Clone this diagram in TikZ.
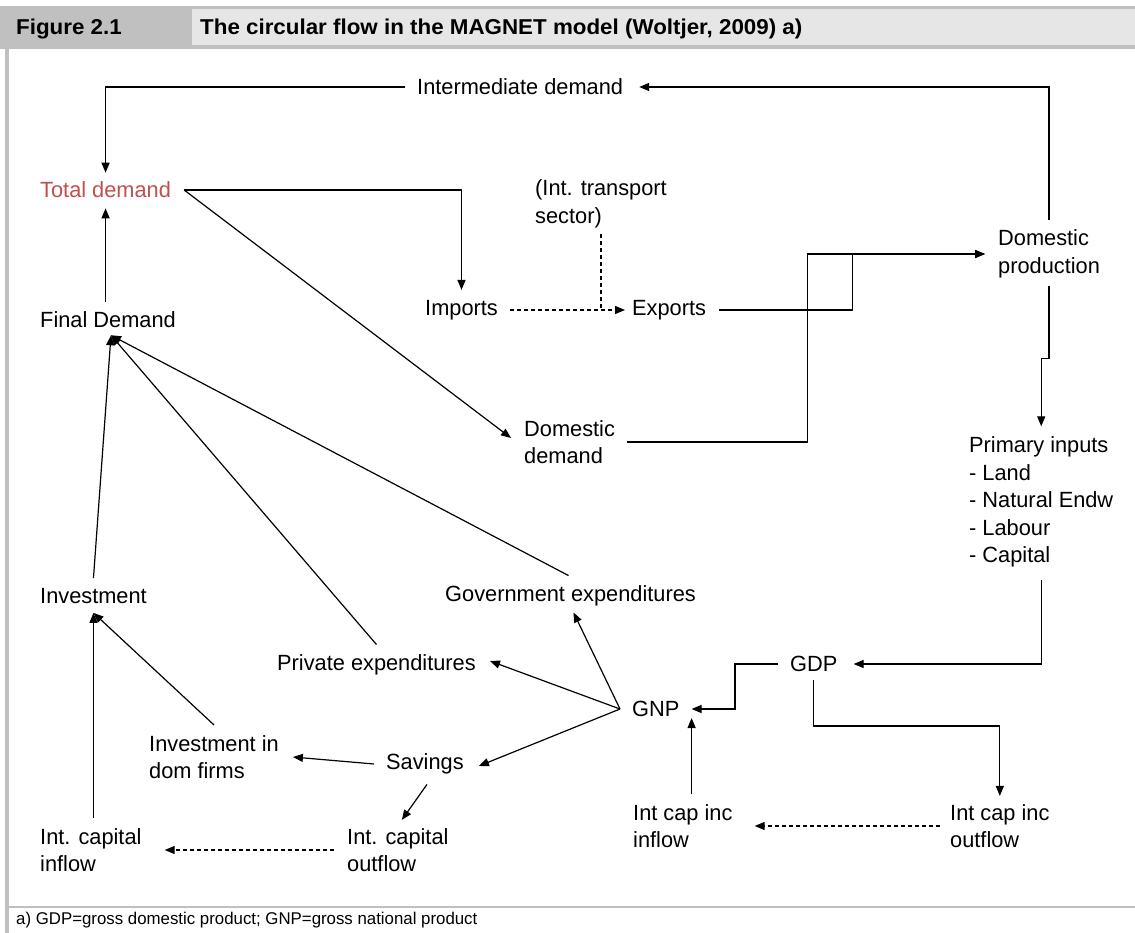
\documentclass[tikz,border=0pt]{standalone}
\usepackage{fontspec}
\setmainfont[FakeStretch=0.99]{Liberation Sans}
\newfontfamily\headfont[FakeStretch=1.04]{Liberation Sans}
\usetikzlibrary{arrows.meta}
\definecolor{framegray}{RGB}{192,192,192}
\definecolor{cellgray}{RGB}{230,230,230}
\definecolor{redtext}{RGB}{192,80,77}
\begin{document}
\begin{tikzpicture}[x=1pt,y=-1pt,
  lbl/.style={inner sep=0pt, anchor=west, font=\fontsize{22}{27.6}\selectfont, align=left},
  conn/.style={line width=1.2pt, draw=black},
  arr/.style={conn, -{Triangle[length=10pt,width=8pt]}},
  darr/.style={arr, dash pattern=on 4pt off 3pt},
  dline/.style={conn, dash pattern=on 4pt off 3pt}]
\useasboundingbox (0,0) rectangle (1135,933);
% frame
\fill[framegray] (0,6) rectangle (1135,49);
\fill[cellgray] (192,9) rectangle (1135,45);
\fill[framegray] (5,49) rectangle (9,933);
\fill[framegray] (5,906) rectangle (1135,908);
\node[inner sep=0pt, anchor=west, font=\headfont\bfseries\fontsize{21.5}{24}\selectfont] (fig) at (16,29) {Figure 2.1};
\node[inner sep=0pt, anchor=west, font=\headfont\bfseries\fontsize{21.5}{24}\selectfont] (title) at (200,29) {The circular flow in the MAGNET model (Woltjer, 2009) a)};
\node[inner sep=0pt, anchor=west, font=\fontsize{17}{20}\selectfont] (foot) at (16,920) {a) GDP=gross domestic product; GNP=gross national product};
% nodes
\node[lbl] (idem) at (417,87) {Intermediate demand};
\node[lbl, text=redtext] (tot) at (40,190) {Total demand};
\node[lbl] (trans) at (535,204) {(Int. transport\\sector)};
\node[lbl] (dp) at (998,254) {Domestic\\production};
\node[lbl] (imp) at (425,310) {Imports};
\node[lbl] (exp) at (632,310) {Exports};
\node[lbl] (fd) at (40,320) {Final Demand};
\node[lbl] (dd) at (524,442) {Domestic\\demand};
\node[lbl] (pi) at (969,502) {Primary inputs\\- Land\\- Natural Endw\\- Labour\\- Capital};
\node[lbl] (inv) at (40,596) {Investment};
\node[lbl] (gov) at (445,596) {Government expenditures};
\node[lbl] (priv) at (277,665) {Private expenditures};
\node[lbl] (gdp) at (790,664) {GDP};
\node[lbl] (gnp) at (632,709) {GNP};
\node[lbl] (idf) at (149,757) {Investment in\\dom firms};
\node[lbl] (sav) at (386,764) {Savings};
\node[lbl] (icin) at (40,850) {Int. capital\\inflow};
\node[lbl] (icout) at (347,850) {Int. capital\\outflow};
\node[lbl] (icii) at (633,826) {Int cap inc\\inflow};
\node[lbl] (icio) at (950,826) {Int cap inc\\outflow};
% helper coordinates
\coordinate (gnpL) at ([xshift=-12pt]gnp.west);
\coordinate (gnpR) at ([xshift=12pt]gnp.east);
\coordinate (fdS) at ([xshift=3pt,yshift=-7pt]fd.south);
\coordinate (invS) at ([yshift=-9pt]inv.south);
% connectors
\draw[arr] ([yshift=10pt]dp.north) |- ([xshift=16pt]idem.east);
\draw[arr] ([xshift=-12pt]idem.west) -| ([yshift=9pt]tot.north);
\draw[arr] ([xshift=13pt]tot.east) -| ([yshift=10pt]imp.north);
\draw[arr] ([xshift=13pt]tot.east) -- ([xshift=-13pt,yshift=4pt]dd.west);
\draw[darr] ([xshift=12pt]imp.east) -- ([xshift=-7pt]exp.west);
\draw[dline] ([yshift=-6pt]trans.south) -- (trans.south |- imp.east);
\draw[arr] ([xshift=13pt]exp.east) -- ++(133,0) |- ([xshift=-13pt]dp.west);
\draw[arr] ([xshift=12pt]dd.east) -- ++(180,0) |- ([xshift=-13pt]dp.west);
\draw[arr] ([yshift=-8pt]dp.south) -- ++(0,72) -| ([yshift=10pt]pi.north);
\draw[arr] ([yshift=-12pt]pi.south) |- ([xshift=16pt]gdp.east);
\draw[arr] ([xshift=-12pt]gdp.west) -- ++(-43,0) |- (gnpR);
\draw[arr] ([yshift=-8pt]gdp.south) -- ++(0,46) -| ([yshift=8pt]icio.north);
\draw[darr] ([xshift=-10pt]icio.west) -- ([xshift=22pt]icii.east);
\draw[arr] ([yshift=10pt]gnpR |- icii.north) -- ([yshift=-9pt]gnpR);
\draw[arr] (gnpL) -- ([xshift=3pt,yshift=-6pt]gov.south);
\draw[arr] (gnpL) -- ([xshift=14pt,yshift=4pt]priv.east);
\draw[arr] (gnpL) -- ([xshift=15pt,yshift=-2pt]sav.east);
\draw[arr] ([xshift=-12pt]sav.west) -- ([xshift=14pt]idf.east);
\draw[arr] ([xshift=2pt,yshift=-10pt]sav.south) -- ([xshift=4pt,yshift=8pt]icout.north);
\draw[darr] ([xshift=-13pt]icout.west) -- ([xshift=23pt]icin.east);
\draw[arr] (invS |- icin.north) ++(0,-10) -- (invS);
\draw[arr] ([yshift=10pt]idf.north) -- (invS);
\draw[arr] ([yshift=10pt]inv.north) -- (fdS);
\draw[arr] ([yshift=10pt]priv.north) -- (fdS);
\draw[arr] ([xshift=-2pt,yshift=10pt]gov.north) -- (fdS);
\draw[arr] ([yshift=10pt]tot.south |- fd.north) -- ([yshift=-10pt]tot.south);
\end{tikzpicture}
\end{document}
